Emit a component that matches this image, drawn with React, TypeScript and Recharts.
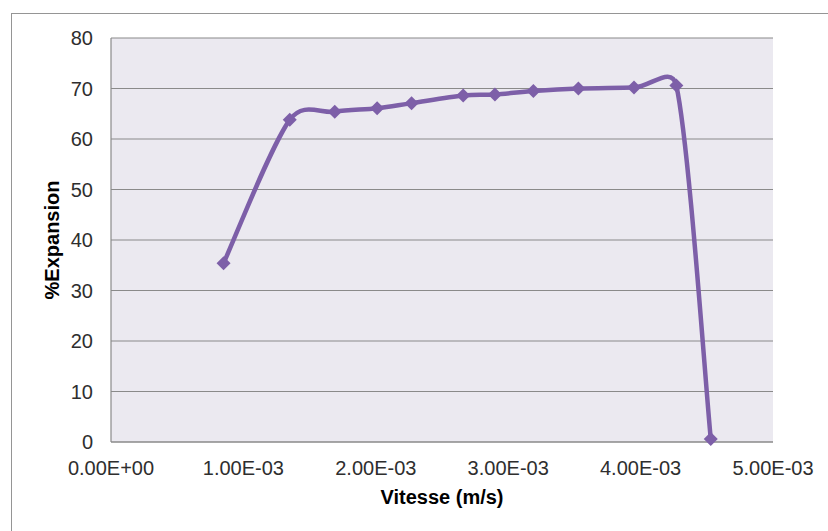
import { CartesianGrid, Label, Line, LineChart, XAxis, YAxis } from "recharts";

const vitesse = [0.00085, 0.00135, 0.00169, 0.00201, 0.00227, 0.00266, 0.0029, 0.00319, 0.00353, 0.00395, 0.00427, 0.00453];
const expansion = [35.4, 63.8, 65.4, 66.1, 67.1, 68.6, 68.8, 69.5, 70.0, 70.2, 70.6, 0.6];
const xTicks = [0, 0.001, 0.002, 0.003, 0.004, 0.005];
const yTicks = [0, 10, 20, 30, 40, 50, 60, 70, 80];

const data = vitesse.map((v, i) => ({ v, e: expansion[i] }));

const PURPLE = "#7d5fa8";
const FONT = "'Liberation Sans', Arial, sans-serif";

// 1.00E-03 style labels
const sci = (v: number) => {
  const [m, e] = v.toExponential(2).split("e");
  const n = Number(e);
  return `${m}E${n < 0 ? "-" : "+"}${String(Math.abs(n)).padStart(2, "0")}`;
};

// smoothing close to the spreadsheet one: bezier with 1/6 tangents, clamped to half the segment
const smoothCurve = (context: any) => {
  let pts: number[][] = [];
  const dist = (a: number[], b: number[]) => Math.hypot(b[0] - a[0], b[1] - a[1]);
  return {
    areaStart() {},
    areaEnd() {},
    lineStart() {
      pts = [];
    },
    point(x: number, y: number) {
      pts.push([+x, +y]);
    },
    lineEnd() {
      const n = pts.length;
      if (!n) return;
      context.moveTo(pts[0][0], pts[0][1]);
      for (let i = 0; i < n - 1; i++) {
        const p0 = pts[Math.max(i - 1, 0)];
        const p1 = pts[i];
        const p2 = pts[i + 1];
        const p3 = pts[Math.min(i + 2, n - 1)];
        const d12 = dist(p1, p2);
        const d02 = dist(p0, p2);
        const d13 = dist(p1, p3);
        let f1 = 1 / 6;
        let f2 = 1 / 6;
        if (d02 / 6 > d12 / 2) f1 = d12 / 2 / d02;
        if (d13 / 6 > d12 / 2) f2 = d12 / 2 / d13;
        context.bezierCurveTo(
          p1[0] + f1 * (p2[0] - p0[0]),
          p1[1] + f1 * (p2[1] - p0[1]),
          p2[0] - f2 * (p3[0] - p1[0]),
          p2[1] - f2 * (p3[1] - p1[1]),
          p2[0],
          p2[1]
        );
      }
    },
  };
};

const Diamond = (props: any) => {
  const { cx, cy } = props;
  if (cx == null || cy == null) return null;
  const r = 7;
  return <polygon points={`${cx},${cy - r} ${cx + r},${cy} ${cx},${cy + r} ${cx - r},${cy}`} fill={PURPLE} />;
};

const YTitle = ({ viewBox }: any) => {
  const x = viewBox.x + 52;
  const y = viewBox.y + viewBox.height / 2;
  return (
    <text x={x} y={y} transform={`rotate(-90, ${x}, ${y})`} textAnchor="middle" dominantBaseline="central" fontFamily={FONT} fontWeight="bold" fontSize={20} fill="#000">
      %Expansion
    </text>
  );
};

const XTitle = ({ viewBox }: any) => (
  <text x={viewBox.x + viewBox.width / 2} y={viewBox.y + 62} textAnchor="middle" fontFamily={FONT} fontWeight="bold" fontSize={20} fill="#000">
    Vitesse (m/s)
  </text>
);

export default function App() {
  return (
    <div style={{ position: "absolute", left: 0, top: 0, width: 828, height: 531, overflow: "hidden", background: "#fff" }}>
      <div style={{ position: "absolute", left: 11, top: 13, right: 0, bottom: 0, borderLeft: "1.5px solid #959595", borderTop: "1.5px solid #959595" }} />
      <div style={{ position: "absolute", left: 0, top: 0 }}>
        <LineChart width={828} height={531} data={data} margin={{ top: 38, right: 55, bottom: 29, left: 0 }}>
          <CartesianGrid vertical={false} stroke="#8a8a8a" strokeWidth={1.2} fill="#ebe9f0" />
          <XAxis
            dataKey="v"
            type="number"
            domain={[0, 0.005]}
            ticks={xTicks}
            tickFormatter={sci}
            height={60}
            tickLine={false}
            tickMargin={13}
            axisLine={{ stroke: "#8a8a8a", strokeWidth: 1.2 }}
            tick={{ fill: "#2e2e2e", fontSize: 20, fontFamily: FONT }}
            interval={0}
          >
            <Label content={<XTitle />} />
          </XAxis>
          <YAxis
            type="number"
            domain={[0, 80]}
            ticks={yTicks}
            width={111}
            tickLine={false}
            tickMargin={12}
            axisLine={{ stroke: "#8a8a8a", strokeWidth: 1.2 }}
            tick={{ fill: "#2e2e2e", fontSize: 20, fontFamily: FONT }}
            interval={0}
          >
            <Label content={<YTitle />} />
          </YAxis>
          <Line dataKey="e" type={smoothCurve as any} stroke={PURPLE} strokeWidth={4.5} dot={<Diamond />} activeDot={false} isAnimationActive={false} />
        </LineChart>
      </div>
    </div>
  );
}
